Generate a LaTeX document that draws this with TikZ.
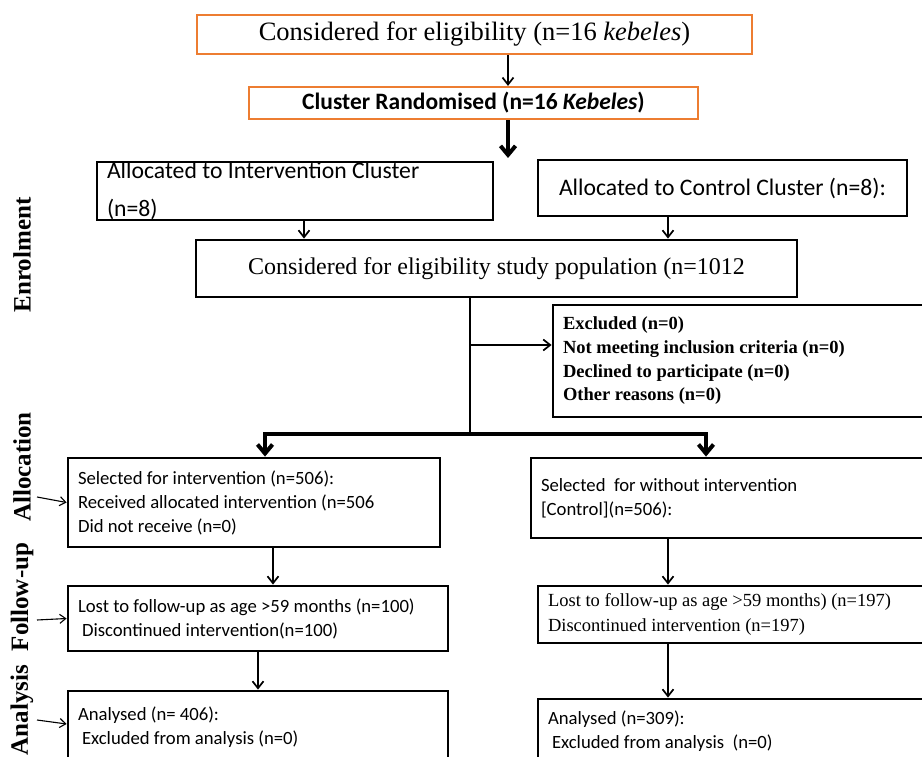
\documentclass[tikz,border=0pt]{standalone}
\usepackage{fontspec}
\setmainfont{Liberation Serif}
\newfontfamily\calfont{Carlito}
\usepackage{tikz}
\usetikzlibrary{arrows.meta}
\definecolor{boxorange}{HTML}{ED7D31}

\begin{document}
\begin{tikzpicture}[x=1pt,y=-1pt,
     box/.style={draw,line width=2.8pt,inner sep=0pt,inner xsep=10pt,align=flush left},
     obox/.style={draw=boxorange,line width=2.2pt,inner sep=0pt},
     sans/.style={font=\calfont\fontsize{18.7}{24}\selectfont},
     thin/.style={-{Straight Barb[length=7pt,width=11pt]},line width=1.7pt},
     side/.style={-{Straight Barb[length=6pt,width=9pt]},line width=1.1pt},
     thick/.style={-{Straight Barb[length=9pt,width=15pt]},line width=4pt},
     stage/.style={rotate=90,font=\bfseries\fontsize{25}{25}\selectfont}]
     \useasboundingbox (0,0) rectangle (922,757);
     \clip (0,0) rectangle (922,757);
     \node[stage] at (22,255) (enrol) {Enrolment};
     \node[stage] at (22,467) (alloc) {Allocation};
     \node[stage] at (22,597) (follow) {Follow-up};
     \node[stage] at (22,710) (analysis) {Analysis};
     \node[obox,minimum width=555pt,minimum height=39pt,font=\fontsize{26.5}{30}\selectfont] at (474.5,34.5) (elig) {Considered for eligibility (n=16 \textit{kebeles})};
     \node[obox,minimum width=449pt,minimum height=32pt,font=\calfont\bfseries\fontsize{23.5}{26}\selectfont] at (473.5,103) (rand) {Cluster Randomised (n=16 \textit{Kebeles})};
     \node[box,text width=376pt,minimum height=58pt,font=\calfont\fontsize{23.7}{38}\selectfont] at (295,191) (intv) {Allocated to Intervention Cluster\\(n=8)};
     \node[box,align=center,minimum width=369pt,minimum height=56pt,font=\calfont\fontsize{23.7}{28}\selectfont] at (722.5,188) (ctrl) {Allocated to Control Cluster (n=8):};
     \node[box,align=center,minimum width=601pt,minimum height=57pt,font=\fontsize{24}{28}\selectfont] at (496.5,268.5) (pop) {Considered for eligibility study population (n=1012};
     \node[box,text width=362pt,minimum height=112pt,font=\bfseries\fontsize{18.5}{23.7}\selectfont] at (744,361) (excl) {Excluded (n=0)\\Not meeting inclusion criteria (n=0)\\Declined to participate (n=0)\\Other reasons (n=0)};
     \node[box,sans,text width=352pt,minimum height=89pt] at (254,502.5) (seli) {Selected for intervention (n=506):\\Received allocated intervention (n=506\\Did not receive (n=0)};
     \node[box,sans,text width=384pt,minimum height=80pt] at (733,498) (selc) {Selected\ \ for without intervention\\{[Control]}(n=506):};
     \node[box,sans,text width=360pt,minimum height=65pt] at (258,618.5) (losti) {Lost to follow-up as age >59 months (n=100)\\\hspace*{4pt}Discontinued intervention(n=100)};
     \node[box,text width=377pt,minimum height=57pt,font=\fontsize{18.5}{25}\selectfont] at (736.5,614.5) (lostc) {Lost to follow-up as age >59 months) (n=197)\\Discontinued intervention (n=197)};
     \node[box,sans,text width=360pt,minimum height=73pt] at (258,727.5) (anai) {Analysed (n= 406):\\\hspace*{4pt}Excluded from analysis (n=0)};
     \node[box,sans,text width=377pt,minimum height=65pt] at (736.5,731.5) (anac) {Analysed (n=309):\\\hspace*{4pt}Excluded from analysis\ \ (n=0)};
     \coordinate (split) at (508,158);
     \coordinate (fork) at (470,434);
     \coordinate (branch) at (470,345);
     \coordinate (sa) at (37,497);
     \coordinate (sf) at (37,620);
     \coordinate (sn) at (37,720);
     \path[thin] (elig.south -| 508,0) edge (rand.north -| 508,0)
              (intv.south -| 304,0) edge (pop.north -| 304,0)
              (ctrl.south -| 668,0) edge (pop.north -| 668,0)
              (branch) edge (branch -| excl.west)
              (seli.south -| 273,0) edge (losti.north -| 273,0)
              (losti.south -| 258,0) edge (anai.north -| 258,0)
              (selc.south -| 668,0) edge (lostc.north -| 668,0)
              (lostc.south -| 668,0) edge (anac.north -| 668,0);
     \path[side] (sa) edge (seli.west)
              (sf) edge (losti.west)
              (sn) edge ([yshift=3.5pt]anai.west);
     \draw[thick] (rand.south -| 508,0) -- (split);
     \draw[line width=2.2pt] (pop.south -| fork) -- (fork);
     \draw[thick] (fork) -| (seli.north -| 265,0);
     \draw[thick] (fork) -| (selc.north -| 706,0);
\end{tikzpicture}
\end{document}
